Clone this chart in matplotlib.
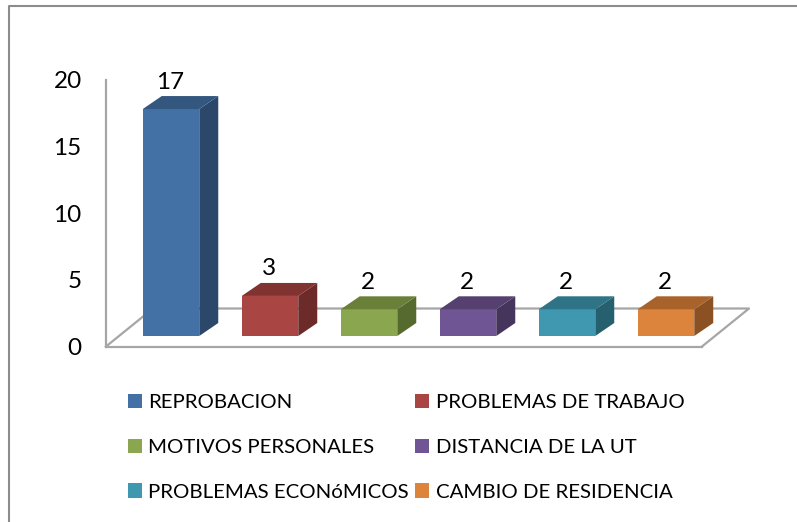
import matplotlib
matplotlib.use('Agg')
import matplotlib.pyplot as plt
from matplotlib.patches import Polygon
from matplotlib.lines import Line2D

plt.rcParams['font.family'] = ['Lato', 'DejaVu Sans']

categories = ['REPROBACION', 'PROBLEMAS DE TRABAJO', 'MOTIVOS PERSONALES',
              'DISTANCIA DE LA UT', 'PROBLEMAS ECONóMICOS', 'CAMBIO DE RESIDENCIA']
values = [17, 3, 2, 2, 2, 2]
y_ticks = [0, 5, 10, 15, 20]

front = ['#4371A5', '#A94644', '#8AA64E', '#6F5594', '#3F97B0', '#DC833C']
top = ['#34577F', '#813331', '#6A8039', '#55406F', '#2E7386', '#A96229']
side = ['#2B4769', '#6C2A29', '#566A2F', '#45345C', '#26606F', '#8C5122']
grey = '#A6A6A6'

W, H = 797, 522
fig = plt.figure(figsize=(W / 100, H / 100), dpi=100)

# axes box is the front edge of the floor, in pixels of the picture
left, right, y0, y20 = 106, 702, 346.5, 79.5
ax = fig.add_axes([left / W, 1 - y0 / H, (right - left) / W, (y0 - y20) / H])
ax.set_ylim(0, 20)
px_x = 99.0                # pixels per category
px_y = (y0 - y20) / 20     # pixels per unit
ax.set_xlim((left - 171) / px_x, (right - 171) / px_x)

bar_w = 56.5 / px_x
floor = 10.5 / px_y        # bars stand a bit behind the front edge
depth_x = 19 / px_x
depth_y = 13 / px_y
back_x = 47 / px_x
back_y = 38 / px_y

ax.patch.set_visible(False)
for s in ['top', 'right']:
    ax.spines[s].set_visible(False)
for s in ['left', 'bottom']:
    ax.spines[s].set_color(grey)
    ax.spines[s].set_linewidth(1.6)
ax.set_xticks([])
ax.set_yticks(y_ticks)
ax.tick_params(axis='y', length=0, labelsize=17.5, pad=17.5, labelcolor='black')

# floor
x_a, x_b = ax.get_xlim()
ax.add_line(Line2D([x_a, x_a + back_x, x_b + back_x, x_b], [0, back_y, back_y, 0],
                   color=grey, lw=1.6, clip_on=False, zorder=1))

handles = []
for i, v in enumerate(values):
    x1 = i - bar_w / 2
    x2 = i + bar_w / 2
    y1 = floor
    y2 = floor + v
    b = ax.bar(i, v, bar_w, bottom=floor, color=front[i], zorder=3, label=categories[i])
    handles.append(b[0])
    ax.add_patch(Polygon([(x2, y1), (x2 + depth_x, y1 + depth_y), (x2 + depth_x, y2 + depth_y), (x2, y2)],
                         closed=True, fc=side[i], ec='none', zorder=3, clip_on=False))
    ax.add_patch(Polygon([(x1, y2), (x1 + depth_x, y2 + depth_y), (x2 + depth_x, y2 + depth_y), (x2, y2)],
                         closed=True, fc=top[i], ec='none', zorder=3, clip_on=False))
    ax.text(i - 0.01, y2 + depth_y + 14 / px_y, str(v), ha='center', va='center',
            fontsize=17.5, color='black', clip_on=False)

# legend goes column by column, the picture reads row by row
order = [0, 2, 4, 1, 3, 5]
ax.legend([handles[j] for j in order], [categories[j] for j in order], ncol=2,
          loc='upper left', bbox_to_anchor=(128 / W, 1 - 394 / H), bbox_transform=fig.transFigure,
          frameon=False, fontsize=14.7, borderaxespad=0, borderpad=0,
          handlelength=0.7, handleheight=0.7, handletextpad=0.3,
          labelspacing=1.34, columnspacing=0.3)

# chart border, only top and left show
fig.add_artist(Line2D([8.5 / W, 8.5 / W, 1], [0, 1 - 5.5 / H, 1 - 5.5 / H], color='#8C8C8C', lw=1.5))

fig.savefig('out.png', dpi=100)
